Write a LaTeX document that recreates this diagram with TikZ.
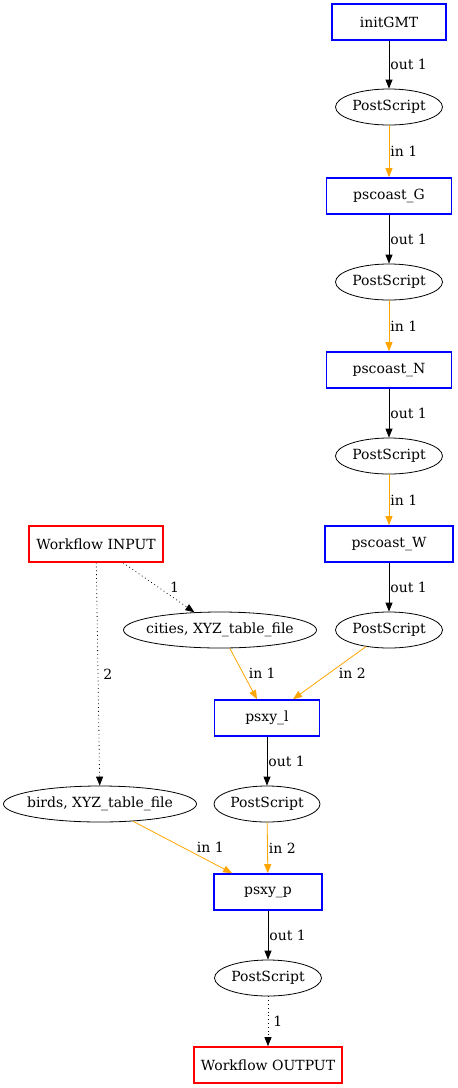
\documentclass[tikz,border=0pt]{standalone}
\usepackage{fontspec}
\setmainfont{DejaVu Serif}
\usetikzlibrary{arrows.meta}
\usetikzlibrary{shapes.geometric}
\definecolor{gvorange}{HTML}{FFA500}
\tikzset{
  task/.style={draw=blue, line width=1.6pt, minimum height=36pt, minimum width=#1, inner sep=0pt},
  iobox/.style={draw=red, line width=1.6pt, minimum height=36pt, minimum width=#1, inner sep=0pt},
  data/.style={draw, ellipse, line width=0.8pt, minimum height=36pt, minimum width=#1, inner ysep=0pt, inner xsep=-12pt},
  outflow/.style={-{Triangle[length=9pt,width=7pt]}, line width=0.8pt},
  inflow/.style={-{Triangle[length=9pt,width=7pt]}, gvorange, line width=0.8pt},
  wire/.style={-{Triangle[length=9pt,width=7pt]}, dash pattern=on 0.8pt off 3pt, line width=0.8pt},
  lbl/.style={anchor=west, inner sep=1pt, text=black},
}
\begin{document}
\begin{tikzpicture}[x=1pt, y=-1pt, every node/.style={font=\fontsize{14}{16}\selectfont}]

                \useasboundingbox (0,0) rectangle (458,1088);

                % right column
                \node[task=114pt] (init) at (389,22) {initGMT};
                \node[data=107pt] (ps1) at (389,107) {PostScript};
                \node[task=125pt] (coastG) at (389,196) {pscoast\_G};
                \node[data=107pt] (ps2) at (389,282) {PostScript};
                \node[task=125pt] (coastN) at (389,370) {pscoast\_N};
                \node[data=107pt] (ps3) at (389,456) {PostScript};
                \node[task=128pt] (coastW) at (389,544) {pscoast\_W};
                \node[data=107pt] (ps4) at (389,630) {PostScript};

                % inputs and plotting
                \node[iobox=134pt] (wfin) at (96,544) {Workflow INPUT};
                \node[data=193pt] (cities) at (220,630) {cities, XYZ\_table\_file};
                \node[task=105pt] (psxyl) at (267,718) {psxy\_l};
                \node[data=193pt] (birds) at (100,804) {birds, XYZ\_table\_file};
                \node[data=106pt] (ps5) at (267,804) {PostScript};
                \node[task=108pt] (psxyp) at (268,892) {psxy\_p};
                \node[data=107pt] (ps6) at (268,978) {PostScript};
                \node[iobox=148pt] (wfout) at (268,1065) {Workflow OUTPUT};

                \draw[outflow] (init) -- (ps1) node[lbl, midway] {out 1};
                \draw[inflow] (ps1) -- (coastG) node[lbl, midway] {in 1};
                \draw[outflow] (coastG) -- (ps2) node[lbl, midway] {out 1};
                \draw[inflow] (ps2) -- (coastN) node[lbl, midway] {in 1};
                \draw[outflow] (coastN) -- (ps3) node[lbl, midway] {out 1};
                \draw[inflow] (ps3) -- (coastW) node[lbl, midway] {in 1};
                \draw[outflow] (coastW) -- (ps4) node[lbl, midway] {out 1};

                \draw[wire] (wfin) -- (cities) node[lbl, midway, xshift=10pt] {1};
                \draw[wire] (wfin) -- (birds) node[lbl, midway, xshift=4pt] {2};
                \draw[inflow] (cities) -- (psxyl) node[lbl, midway, xshift=4pt] {in 1};
                \draw[inflow] (ps4) -- (psxyl) node[lbl, midway, xshift=8pt] {in 2};
                \draw[outflow] (psxyl) -- (ps5) node[lbl, midway] {out 1};
                \draw[inflow] (birds) -- (psxyp) node[lbl, midway, xshift=13pt] {in 1};
                \draw[inflow] (ps5) -- (psxyp) node[lbl, midway] {in 2};
                \draw[outflow] (psxyp) -- (ps6) node[lbl, midway] {out 1};
                \draw[wire] (ps6) -- (wfout) node[lbl, midway, xshift=4pt] {1};

            \end{tikzpicture}
\end{document}
